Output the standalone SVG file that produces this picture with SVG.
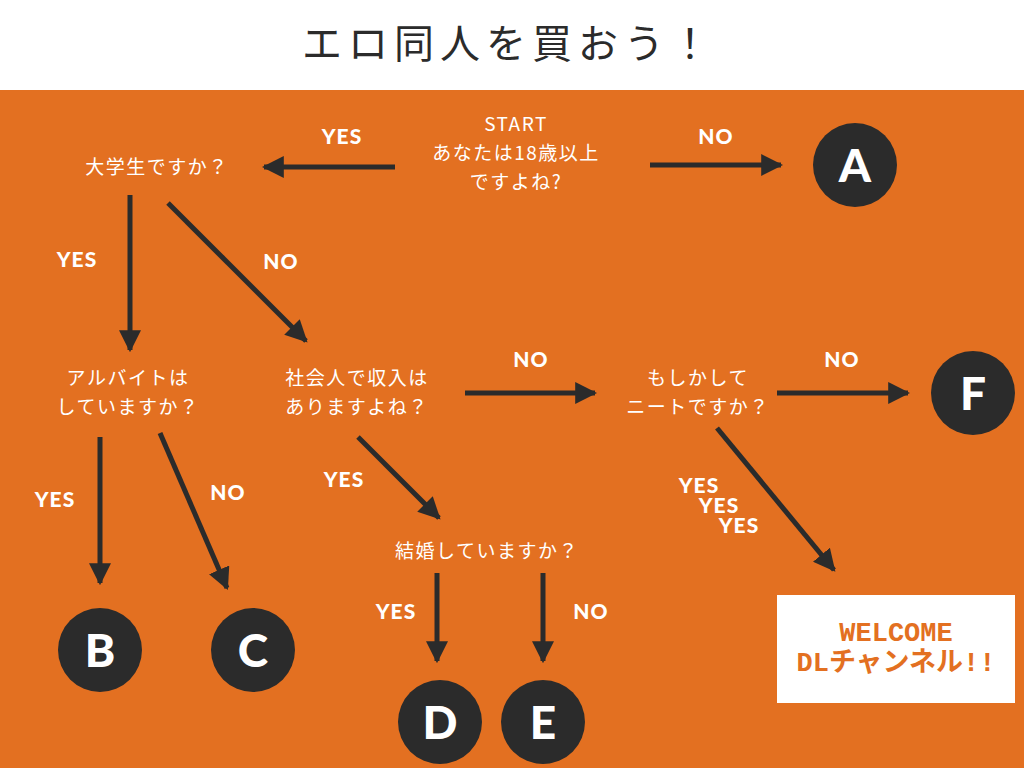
<svg xmlns="http://www.w3.org/2000/svg" width="1024" height="768" viewBox="0 0 1024 768">
<style>
.q{font-family:"Noto Sans CJK JP","Noto Sans",sans-serif;font-size:19px;letter-spacing:1.5px;fill:#fff;text-anchor:middle}
.l{font-family:Lato,"Open Sans",sans-serif;font-weight:900;font-size:21px;letter-spacing:1px;fill:#fff;text-anchor:middle}
.c{fill:#2b2b2b}
.ct{font-family:Lato,"Open Sans",sans-serif;font-weight:900;font-size:46px;fill:#fff;text-anchor:middle}
.e{stroke:#2b2b2b;stroke-width:5;fill:none;marker-end:url(#ah)}
</style>
<defs><marker id="ah" viewBox="0 0 10 10" refX="9" refY="5" markerWidth="4.4" markerHeight="4.4" orient="auto" markerUnits="strokeWidth"><path d="M0,0L10,5L0,10z" fill="#2b2b2b"/></marker></defs>
<rect width="1024" height="768" fill="#fff"/>
<rect y="90" width="1024" height="678" fill="#e37021"/>
<text x="509" y="58" text-anchor="middle" font-family="Noto Sans CJK JP,sans-serif" font-size="40" fill="#2b2b2b" letter-spacing="6">エロ同人を買おう！</text>
<g id="connectors">
<line class="e" x1="395" y1="167" x2="264" y2="167"/>
<line class="e" x1="650" y1="165" x2="781" y2="165"/>
<line class="e" x1="130" y1="195" x2="130" y2="350"/>
<line class="e" x1="168" y1="203" x2="306" y2="341"/>
<line class="e" x1="465" y1="393" x2="595" y2="393"/>
<line class="e" x1="777" y1="393" x2="908" y2="393"/>
<line class="e" x1="100" y1="437" x2="100" y2="583"/>
<line class="e" x1="160" y1="433" x2="227" y2="588"/>
<line class="e" x1="358" y1="437" x2="439" y2="518"/>
<line class="e" x1="437" y1="573" x2="437" y2="661"/>
<line class="e" x1="543" y1="573" x2="543" y2="661"/>
<line class="e" x1="717" y1="428" x2="834" y2="570"/>
<text class="l" x="342" y="144">YES</text>
<text class="l" x="716" y="144">NO</text>
<text class="l" x="77" y="267">YES</text>
<text class="l" x="281" y="269">NO</text>
<text class="l" x="531" y="367">NO</text>
<text class="l" x="842" y="367">NO</text>
<text class="l" x="55" y="507">YES</text>
<text class="l" x="228" y="500">NO</text>
<text class="l" x="344" y="487">YES</text>
<text class="l" x="396" y="619">YES</text>
<text class="l" x="591" y="619">NO</text>
<text class="l" x="699" y="493">YES</text>
<text class="l" x="719" y="513">YES</text>
<text class="l" x="739" y="533">YES</text>
</g>
<g id="start"><text class="q" x="516" y="131">START</text><text class="q" x="516" y="160">あなたは18歳以上</text><text class="q" x="516" y="189">ですよね?</text></g>
<g id="q1"><text class="q" x="157" y="174">大学生ですか？</text></g>
<g id="q2"><text class="q" x="128" y="385">アルバイトは</text><text class="q" x="128" y="414">していますか？</text></g>
<g id="q3"><text class="q" x="357" y="385">社会人で収入は</text><text class="q" x="357" y="414">ありますよね？</text></g>
<g id="q4"><text class="q" x="698" y="385">もしかして</text><text class="q" x="698" y="414">ニートですか？</text></g>
<g id="q5"><text class="q" x="487" y="558">結婚していますか？</text></g>
<g id="A"><circle class="c" cx="855" cy="165" r="42"/><text class="ct" x="855" y="182">A</text></g>
<g id="F"><circle class="c" cx="973" cy="393" r="42"/><text class="ct" x="973" y="410">F</text></g>
<g id="B"><circle class="c" cx="100" cy="650" r="42"/><text class="ct" x="100" y="667">B</text></g>
<g id="C"><circle class="c" cx="253" cy="650" r="42"/><text class="ct" x="253" y="667">C</text></g>
<g id="D"><circle class="c" cx="440" cy="722" r="42"/><text class="ct" x="440" y="739">D</text></g>
<g id="E"><circle class="c" cx="543" cy="722" r="42"/><text class="ct" x="543" y="739">E</text></g>
<g id="welcome"><rect x="777" y="595" width="238" height="108" fill="#fff"/>
<text x="896" y="641" text-anchor="middle" font-family="Liberation Mono,Noto Sans CJK JP,monospace" font-weight="bold" font-size="27" fill="#e37021">WELCOME</text>
<text x="896" y="671" text-anchor="middle" font-family="Liberation Mono,Noto Sans CJK JP,monospace" font-weight="bold" font-size="27" fill="#e37021">DLチャンネル!!</text></g>
</svg>
